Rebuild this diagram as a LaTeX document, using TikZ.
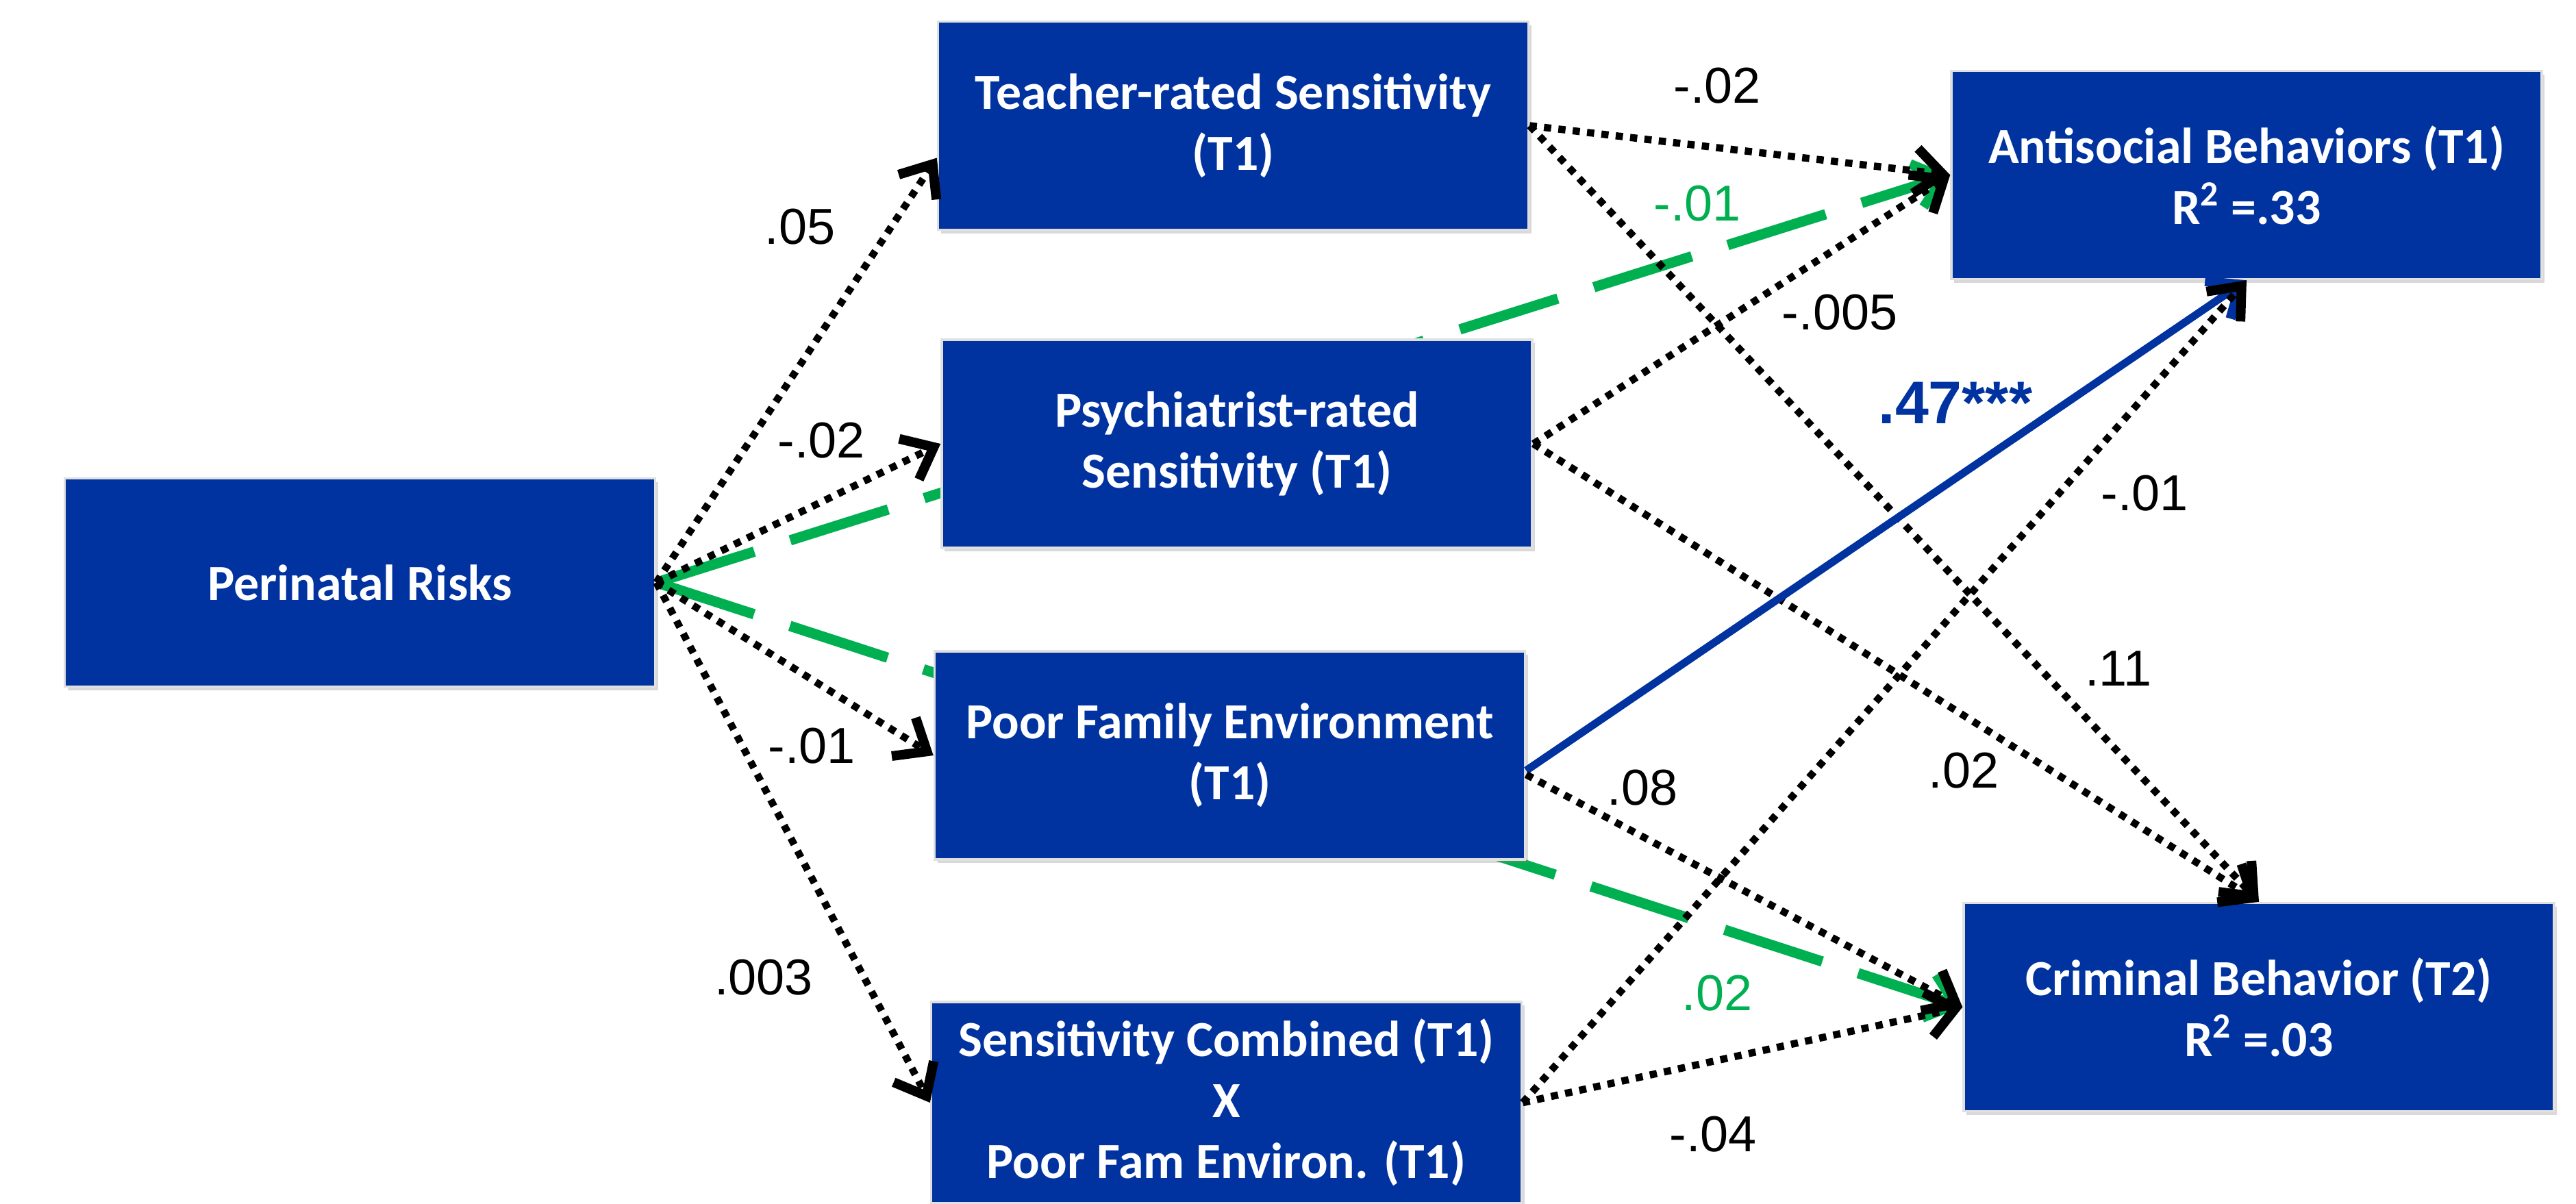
\documentclass[tikz,border=0pt]{standalone}
\usepackage{fontspec}
\setmainfont{Liberation Sans}
\newfontfamily\boxfont{Carlito}
\usetikzlibrary{arrows.meta,backgrounds,shadows}
\definecolor{pathblue}{HTML}{0033A0}
\definecolor{pathgreen}{HTML}{00B050}
\tikzset{
  var/.style={rectangle, fill=pathblue, draw=black!12, line width=1pt,
    minimum width=8.62cm, minimum height=3.04cm, align=center, text=white,
    font=\boxfont\bfseries\fontsize{21}{25.3}\selectfont,
    drop shadow={shadow xshift=0.04cm, shadow yshift=-0.05cm, opacity=0.3}},
  coef/.style={font=\fontsize{21}{25}\selectfont},
  barb/.style={-{Straight Barb[length=0.4cm,width=0.66cm,line width=4pt]}},
  nsig/.style={barb, line width=3pt, dash pattern=on 3pt off 3pt},
  sig/.style={barb, pathblue, line width=3.2pt},
  med/.style={barb, pathgreen, line width=4.3pt, dash pattern=on 1.5cm off 0.55cm}
}
\begin{document}
\begin{tikzpicture}
	\useasboundingbox (0,0) rectangle (37.61,-17.57);
	% the variables
	\node[var] (risk) at (5.255,-8.505) {Perinatal Risks};
	\node[var] (teach) at (18.005,-1.835) {Teacher-rated Sensitivity\\(T1)};
	\node[var] (psych) at (18.06,-6.48) {Psychiatrist-rated\\Sensitivity (T1)};
	\node[var] (fam) at (17.955,-11.03) {Poor Family Environment\\(T1)};
	\node[var, minimum height=2.94cm] (combo) at (17.905,-16.10) {Sensitivity Combined (T1)\\X\\Poor Fam Environ. (T1)};
	\node[var] (anti) at (32.80,-2.555) {Antisocial Behaviors (T1)\\R\textsuperscript{2} =.33};
	\node[var] (crim) at (32.98,-14.705) {Criminal Behavior (T2)\\R\textsuperscript{2} =.03};
	% indirect paths, behind the boxes
	\begin{scope}[on background layer]
		\draw[med] (risk.east) -- (anti.west);
		\draw[med] (risk.east) -- (crim.west);
	\end{scope}
	% paths from perinatal risks
	\draw[nsig] (risk.east) -- ([yshift=-0.47cm]teach.west);
	\draw[nsig] (risk.east) -- (psych.west);
	\draw[nsig] (risk.east) -- (fam.west);
	\draw[nsig] (risk.east) -- (combo.west);
	% paths to the outcomes
	\draw[nsig] (teach.east) -- (anti.west);
	\draw[nsig] (teach.east) -- (crim.north);
	\draw[nsig] (psych.east) -- (anti.west);
	\draw[nsig] (psych.east) -- (crim.north);
	\draw[sig] ([yshift=-0.22cm]fam.east) -- (anti.south);
	\draw[nsig] ([yshift=-0.28cm]fam.east) -- (crim.west);
	\draw[nsig] (combo.east) -- (anti.south);
	\draw[nsig] (combo.east) -- (crim.west);
	% coefficients
	\node[coef] (c1) at (11.68,-3.31) {.05};
	\node[coef] (c2) at (11.99,-6.43) {-.02};
	\node[coef] (c3) at (11.85,-10.89) {-.01};
	\node[coef] (c4) at (11.15,-14.27) {.003};
	\node[coef] (c5) at (25.07,-1.25) {-.02};
	\node[coef, pathgreen] (c6) at (24.78,-2.97) {-.01};
	\node[coef] (c7) at (26.86,-4.56) {-.005};
	\node[coef, pathblue, font=\bfseries\fontsize{25}{29}\selectfont] (c8) at (28.55,-5.88) {.47***};
	\node[coef] (c9) at (31.31,-7.20) {-.01};
	\node[coef] (c10) at (30.93,-9.76) {.11};
	\node[coef] (c11) at (28.67,-11.25) {.02};
	\node[coef] (c12) at (23.98,-11.50) {.08};
	\node[coef, pathgreen] (c13) at (25.07,-14.50) {.02};
	\node[coef] (c14) at (25.01,-16.56) {-.04};
\end{tikzpicture}
\end{document}
